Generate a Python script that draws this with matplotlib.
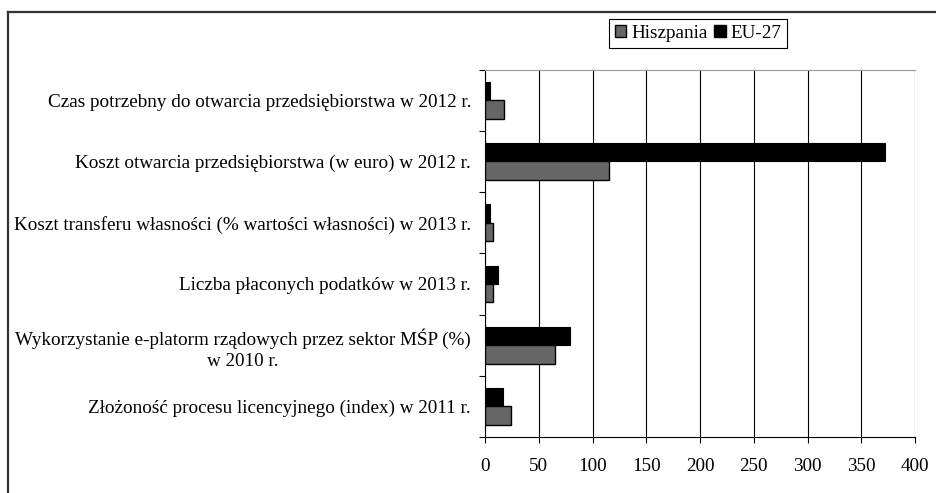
import matplotlib
matplotlib.use("Agg")
import matplotlib.pyplot as plt
from matplotlib.patches import Patch
from matplotlib.lines import Line2D
import numpy as np

categories = [
    "Czas potrzebny do otwarcia przedsiębiorstwa w 2012 r.",
    "Koszt otwarcia przedsiębiorstwa (w euro) w 2012 r.",
    "Koszt transferu własności (% wartości własności) w 2013 r.",
    "Liczba płaconych podatków w 2013 r.",
    "Wykorzystanie e-platorm rządowych przez sektor MŚP (%)\nw 2010 r.",
    "Złożoność procesu licencyjnego (index) w 2011 r.",
]
hiszpania = [18, 115, 7.5, 7.5, 65.5, 24]
eu27 = [5, 372, 5, 12.5, 79.5, 17]
xticks = [0, 50, 100, 150, 200, 250, 300, 350, 400]
series_names = ["Hiszpania", "EU-27"]

plt.rcParams['font.family'] = ['Liberation Serif', 'DejaVu Serif']
FS = 13.75

W, H = 937, 493
fig = plt.figure(figsize=(W / 100, H / 100), dpi=100)

# outer frame (partial, as in the cropped reference)
fig.add_artist(Line2D([8 / W, 1.0], [1 - 12 / H, 1 - 12 / H], transform=fig.transFigure,
                      color="#333333", lw=1.6))
fig.add_artist(Line2D([8 / W, 8 / W], [0, 1 - 12 / H], transform=fig.transFigure,
                      color="#333333", lw=1.6))

left, right, top, bottom = 485, 915, 69.5, 437
ax = fig.add_axes([left / W, 1 - bottom / H, (right - left) / W, (bottom - top) / H])

y = np.arange(len(categories))
bh = 0.3
ax.barh(y - bh / 2, eu27, height=bh, color="black", edgecolor="black", lw=0.8, zorder=3)
ax.barh(y + bh / 2, hiszpania, height=bh, color="#666666", edgecolor="black", lw=1.0, zorder=3)

ax.set_xlim(0, 400)
ax.set_ylim(len(categories) - 0.5, -0.5)
ax.set_xticks(xticks)
ax.set_xticklabels([str(v) for v in xticks], fontsize=FS)
ax.tick_params(axis="x", direction="out", length=4, width=0.8, pad=11)
ax.xaxis.grid(True, color="black", lw=0.8, zorder=0)

ax.set_yticks(y)
ax.set_yticklabels(categories, fontsize=FS, multialignment="center", linespacing=1.35)
ax.tick_params(axis="y", length=0, pad=10)
ax.set_yticks(np.arange(-0.5, len(categories)), minor=True)
ax.tick_params(axis="y", which="minor", direction="out", length=4, width=0.8)

ax.spines["right"].set_visible(False)
ax.spines["top"].set_color("#999999")
ax.spines["top"].set_linewidth(0.8)
ax.spines["left"].set_linewidth(0.8)
ax.spines["bottom"].set_linewidth(0.8)

handles = [Patch(facecolor="#666666", edgecolor="black", lw=1.0),
           Patch(facecolor="black", edgecolor="black", lw=1.0)]
leg = fig.legend(handles, series_names, ncol=2, fontsize=FS,
                 loc="center", bbox_to_anchor=(698 / W, 1 - 33.5 / H),
                 frameon=True, fancybox=False, edgecolor="black", framealpha=1,
                 handlelength=0.6, handleheight=0.6, handletextpad=0.25,
                 columnspacing=0.35, borderpad=0.3, borderaxespad=0)
leg.get_frame().set_linewidth(0.8)

fig.savefig("out.png", dpi=100)
